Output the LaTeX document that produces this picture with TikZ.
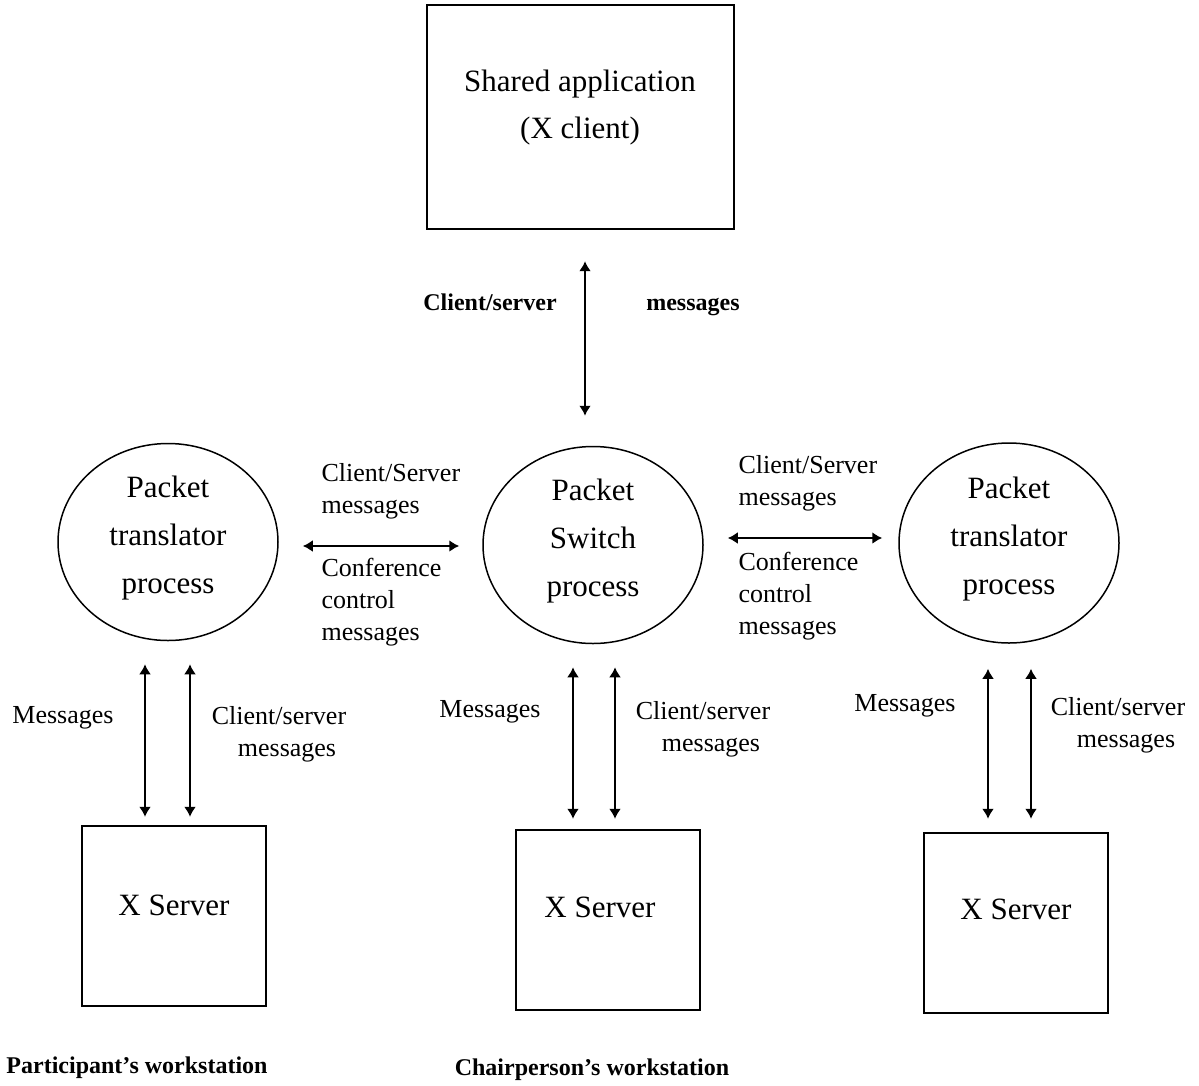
\documentclass[tikz,border=0pt]{standalone}
\usepackage{fontspec}
\setmainfont{Liberation Serif}
\usetikzlibrary{arrows.meta,shapes.geometric}

\begin{document}
\begin{tikzpicture}[x=1pt,y=-1pt,
  box/.style={draw,line width=2.4pt,inner sep=0pt},
  proc/.style={draw,ellipse,line width=1.5pt,inner sep=0pt,minimum width=220pt,minimum height=197pt,
    align=center,text depth=15pt,font=\fontsize{31}{48}\selectfont},
  bigtext/.style={align=center,font=\fontsize{31}{47}\selectfont},
  msg/.style={align=left,font=\fontsize{26}{32}\selectfont},
  msgc/.style={align=center,font=\fontsize{26}{32}\selectfont},
  boldlbl/.style={font=\fontsize{24}{28}\selectfont\bfseries},
  biarrow/.style={line width=2.2pt,{Latex[length=10pt,width=12pt]}-{Latex[length=10pt,width=12pt]}}
]
\useasboundingbox (0,0) rectangle (1199,1085);

% shared application (X client)
\node[box,minimum width=307pt,minimum height=224pt] (app) at (580.5,117) {};
\node[bigtext] (apptext) at (580,108) {Shared application\\(X client)};

% processes
\node[proc] (pl) at (168,542) {Packet\\translator\\process};
\node[proc] (sw) at (593,545) {Packet\\Switch\\process};
\node[proc,minimum height=200pt] (pr) at (1009,543) {Packet\\translator\\process};

% X servers
\node[box,minimum width=184pt,minimum height=180pt] (xl) at (174,916) {};
\node[box,minimum width=184pt,minimum height=180pt] (xm) at (608,920) {};
\node[box,minimum width=184pt,minimum height=180pt] (xr) at (1016,923) {};
\node[bigtext] (xlt) at (174,905) {X Server};
\node[bigtext] (xmt) at (600,907) {X Server};
\node[bigtext] (xrt) at (1016,909) {X Server};

% application <-> packet switch
\draw[biarrow,shorten <=31pt,shorten >=30pt] ([xshift=4.5pt]app.south) -- ([xshift=-8pt]sw.north);
\node[boldlbl,anchor=base] (csa) at (490,310) {Client/server};
\node[boldlbl,anchor=base] (csb) at (693,310) {messages};

% packet translators <-> packet switch
\draw[biarrow,shorten <=24pt,shorten >=23pt] ([yshift=-4pt]pl.east) -- ([yshift=-1pt]sw.west);
\draw[biarrow,shorten <=24pt,shorten >=16pt] ([yshift=7pt]sw.east) -- ([yshift=5pt]pr.west);
\node[msg,anchor=west] (lcs) at (318,491) {Client/Server\\messages};
\node[msg,anchor=west] (lcc) at (318,602) {Conference\\control\\messages};
\node[msg,anchor=west] (rcs) at (735,483) {Client/Server\\messages};
\node[msg,anchor=west] (rcc) at (735,596) {Conference\\control\\messages};

% processes <-> X servers
\draw[biarrow,shorten <=23pt,shorten >=8pt] ([xshift=-23pt]pl.south) -- ([xshift=-29pt]xl.north);
\draw[biarrow,shorten <=23pt,shorten >=8pt] ([xshift=22pt]pl.south) -- ([xshift=16pt]xl.north);
\draw[biarrow,shorten <=23pt,shorten >=10pt] ([xshift=-20pt]sw.south) -- ([xshift=-35pt]xm.north);
\draw[biarrow,shorten <=23pt,shorten >=10pt] ([xshift=22pt]sw.south) -- ([xshift=7pt]xm.north);
\draw[biarrow,shorten <=25pt,shorten >=13pt] ([xshift=-21pt]pr.south) -- ([xshift=-28pt]xr.north);
\draw[biarrow,shorten <=25pt,shorten >=13pt] ([xshift=22pt]pr.south) -- ([xshift=15pt]xr.north);

\node[msgc] (lm) at (63,718) {Messages};
\node[msgc] (lc) at (279,734) {Client/server\\\hspace*{16pt}messages};
\node[msgc] (mm) at (490,712) {Messages};
\node[msgc] (mc) at (703,729) {Client/server\\\hspace*{16pt}messages};
\node[msgc] (rm) at (905,706) {Messages};
\node[msgc] (rc) at (1118,725) {Client/server\\\hspace*{16pt}messages};

% workstation captions
\node[boldlbl] (pw) at (137,1068) {Participant’s workstation};
\node[boldlbl] (cw) at (592,1070) {Chairperson’s workstation};
\end{tikzpicture}
\end{document}
